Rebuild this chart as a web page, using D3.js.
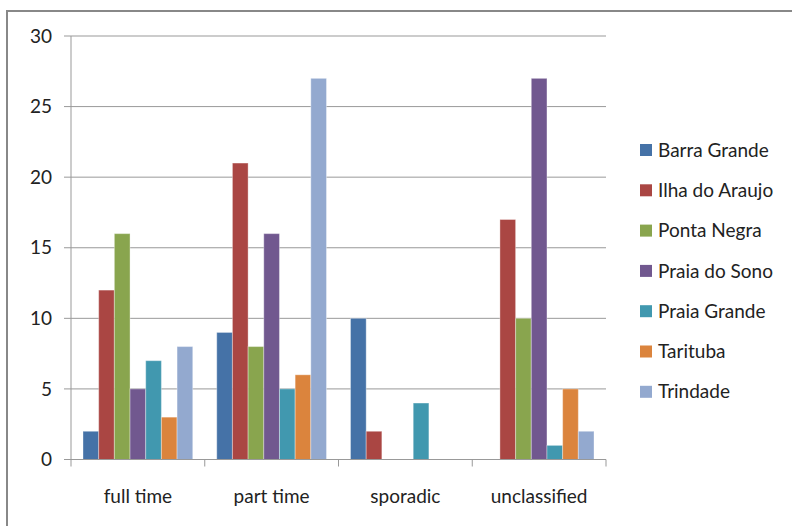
<!DOCTYPE html>
<html>
<head>
<meta charset="utf-8">
<script src="https://cdn.jsdelivr.net/npm/d3@7"></script>
<style>
  body { margin: 0; background: #fff; }
  text { font-family: Lato, "Open Sans", sans-serif; fill: #222; }
</style>
</head>
<body>
<svg id="chart" width="792" height="526"></svg>
<script>
// categories along the x axis
const categories = ['full time', 'part time', 'sporadic', 'unclassified'];
// one series per place
const seriesNames = ['Barra Grande', 'Ilha do Araujo', 'Ponta Negra', 'Praia do Sono', 'Praia Grande', 'Tarituba', 'Trindade'];
const barraGrande  = [2, 9, 10, 0];
const ilhaDoAraujo = [12, 21, 2, 17];
const pontaNegra   = [16, 8, 0, 10];
const praiaDoSono  = [5, 16, 0, 27];
const praiaGrande  = [7, 5, 4, 1];
const tarituba     = [3, 6, 0, 5];
const trindade     = [8, 27, 0, 2];
const yTicks = [0, 5, 10, 15, 20, 25, 30];

const seriesValues = [barraGrande, ilhaDoAraujo, pontaNegra, praiaDoSono, praiaGrande, tarituba, trindade];
const colors = ['#4572A7', '#AA4643', '#89A54E', '#71588F', '#4198AF', '#DB843D', '#93A9CF'];

const svg = d3.select('#chart');

// outer frame (runs off the right/bottom edge)
svg.append('rect')
    .attr('x', 7).attr('y', 11)
    .attr('width', 800).attr('height', 530)
    .attr('fill', 'none')
    .attr('stroke', '#888')
    .attr('stroke-width', 2);

const plotLeft = 71, plotRight = 606, plotTop = 36, plotBottom = 459.5;
const fontSize = '19px';

const x0 = d3.scaleBand().domain(categories).range([plotLeft, plotRight]).paddingInner(0).paddingOuter(0);
const x1 = d3.scaleBand().domain(seriesNames).range([12, x0.bandwidth() - 12]);
const y = d3.scaleLinear().domain([0, 30]).range([plotBottom, plotTop]);

// gridlines
svg.append('g')
    .selectAll('line')
    .data(yTicks)
    .enter()
    .append('line')
    .attr('x1', plotLeft - 7).attr('x2', plotRight)
    .attr('y1', d => y(d)).attr('y2', d => y(d))
    .attr('stroke', '#999')
    .attr('stroke-width', 1);

// y axis line
svg.append('line')
    .attr('x1', plotLeft).attr('x2', plotLeft)
    .attr('y1', plotTop).attr('y2', plotBottom)
    .attr('stroke', '#999');

// y labels
svg.append('g')
    .selectAll('text')
    .data(yTicks)
    .enter()
    .append('text')
    .attr('x', 52)
    .attr('y', d => y(d))
    .attr('dy', '0.35em')
    .attr('text-anchor', 'end')
    .style('font-size', fontSize)
    .text(d => d);

// bars
const groups = svg.append('g')
    .selectAll('g')
    .data(categories)
    .enter()
    .append('g')
    .attr('transform', d => 'translate(' + x0(d) + ',0)');

groups.selectAll('rect')
    .data((c, ci) => seriesNames.map((s, si) => ({ name: s, value: seriesValues[si][ci], color: colors[si] })))
    .enter()
    .append('rect')
    .attr('x', d => x1(d.name))
    .attr('width', x1.bandwidth())
    .attr('y', d => y(d.value))
    .attr('height', d => plotBottom - y(d.value))
    .attr('fill', d => d.color)
    .attr('stroke', 'rgba(255,255,255,0.35)')
    .attr('stroke-width', 1);

// x axis line and group ticks
svg.append('line')
    .attr('x1', plotLeft).attr('x2', plotRight)
    .attr('y1', plotBottom).attr('y2', plotBottom)
    .attr('stroke', '#999');

const bounds = categories.map(c => x0(c)).concat([plotRight]);
svg.append('g')
    .selectAll('line')
    .data(bounds)
    .enter()
    .append('line')
    .attr('x1', d => d).attr('x2', d => d)
    .attr('y1', plotBottom).attr('y2', plotBottom + 7)
    .attr('stroke', '#999');

// category labels
svg.append('g')
    .selectAll('text')
    .data(categories)
    .enter()
    .append('text')
    .attr('x', d => x0(d) + x0.bandwidth() / 2)
    .attr('y', 496)
    .attr('dy', '0.35em')
    .attr('text-anchor', 'middle')
    .style('font-size', fontSize)
    .text(d => d);

// legend
const legend = svg.append('g')
    .selectAll('g')
    .data(seriesNames)
    .enter()
    .append('g')
    .attr('transform', (d, i) => 'translate(640,' + (150 + i * 40.3) + ')');

legend.append('rect')
    .attr('x', 0).attr('y', -6)
    .attr('width', 12).attr('height', 12)
    .attr('fill', (d, i) => colors[i]);

legend.append('text')
    .attr('x', 18)
    .attr('y', 0)
    .attr('dy', '0.35em')
    .style('font-size', fontSize)
    .text(d => d);
</script>
</body>
</html>
